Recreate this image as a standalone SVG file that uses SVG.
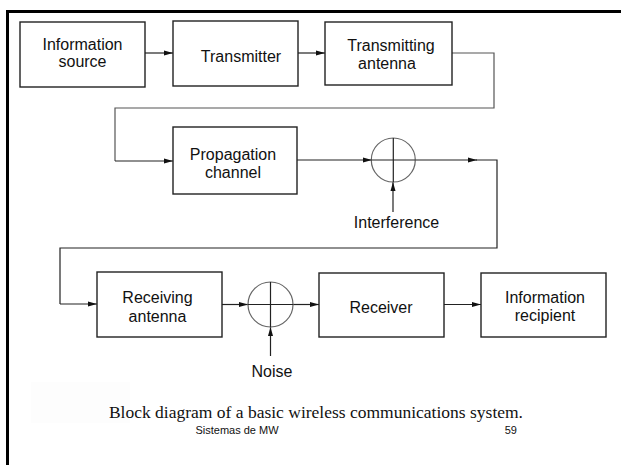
<svg xmlns="http://www.w3.org/2000/svg" width="621" height="465" viewBox="0 0 621 465">
<defs>
<marker id="ah" markerWidth="9" markerHeight="6" refX="9" refY="3" orient="auto" markerUnits="userSpaceOnUse">
<path d="M0,0.5 L9,3 L0,5.5 Z" fill="#111"/>
</marker>
<style>
.box{fill:#fff;stroke:#222;stroke-width:1.4}
.lbl{font-family:"Liberation Sans",Arial,sans-serif;font-size:16px;fill:#111;text-anchor:middle}
.ln{fill:none;stroke:#222;stroke-width:1.2}
.gl{fill:none;stroke:#555;stroke-width:1.2}
.sum{fill:none;stroke:#666;stroke-width:1.2}
</style>
</defs>
<rect width="621" height="465" fill="#fff"/>
<rect x="31" y="382" width="99" height="41" fill="#fdfdfd"/>
<path d="M7.5,465 V11.5 H621" fill="none" stroke="#000" stroke-width="3"/>

<g id="connectors">
<line class="ln" x1="145" y1="53" x2="173" y2="53" marker-end="url(#ah)"/>
<line class="ln" x1="298" y1="53" x2="325" y2="53" marker-end="url(#ah)"/>
<path class="gl" d="M452,53 H494 V108 H115 V161"/>
<line class="ln" x1="115" y1="161" x2="173" y2="161" marker-end="url(#ah)"/>
<line class="ln" x1="297" y1="160" x2="372" y2="160" marker-end="url(#ah)"/>
<line class="ln" x1="393" y1="212" x2="393" y2="182" marker-end="url(#ah)"/>
<line class="ln" x1="415" y1="160" x2="477" y2="160" marker-end="url(#ah)"/>
<path class="ln" d="M476,160 H497 V248 H60 V304"/>
<line class="ln" x1="60" y1="304" x2="97" y2="304" marker-end="url(#ah)"/>
<line class="ln" x1="222" y1="304.5" x2="248" y2="304.5" marker-end="url(#ah)"/>
<line class="ln" x1="270.5" y1="356" x2="270.5" y2="327" marker-end="url(#ah)"/>
<line class="ln" x1="293" y1="304.5" x2="319" y2="304.5" marker-end="url(#ah)"/>
<line class="ln" x1="444" y1="304.5" x2="481" y2="304.5" marker-end="url(#ah)"/>
</g>

<g id="info-source">
<rect class="box" x="20" y="22" width="125" height="65"/>
<text class="lbl" x="82.5" y="50">Information</text>
<text class="lbl" x="82.5" y="67">source</text>
</g>
<g id="transmitter">
<rect class="box" x="173" y="21" width="125" height="65"/>
<text class="lbl" x="241" y="62">Transmitter</text>
</g>
<g id="tx-antenna">
<rect class="box" x="325" y="22" width="127" height="63"/>
<text class="lbl" x="391" y="51">Transmitting</text>
<text class="lbl" x="387" y="69">antenna</text>
</g>
<g id="propagation">
<rect class="box" x="173" y="127" width="124" height="67"/>
<text class="lbl" x="233" y="160">Propagation</text>
<text class="lbl" x="233" y="178">channel</text>
</g>
<g id="sum1">
<circle class="sum" cx="393.3" cy="160" r="22"/>
<line class="ln" x1="393.3" y1="138" x2="393.3" y2="182"/>
<line class="ln" x1="371.3" y1="160" x2="415.3" y2="160"/>
</g>
<g id="interference">
<text class="lbl" x="396.5" y="228">Interference</text>
</g>
<g id="rx-antenna">
<rect class="box" x="97" y="272" width="125" height="65"/>
<text class="lbl" x="157.5" y="303">Receiving</text>
<text class="lbl" x="157.5" y="322">antenna</text>
</g>
<g id="sum2">
<circle class="sum" cx="270.5" cy="304.5" r="22.5"/>
<line class="ln" x1="270.5" y1="282" x2="270.5" y2="327"/>
<line class="ln" x1="248" y1="304.5" x2="293" y2="304.5"/>
</g>
<g id="noise">
<text class="lbl" x="272" y="377">Noise</text>
</g>
<g id="receiver">
<rect class="box" x="319" y="273" width="125" height="64"/>
<text class="lbl" x="381" y="313">Receiver</text>
</g>
<g id="info-recipient">
<rect class="box" x="481" y="273" width="125" height="64"/>
<text class="lbl" x="545" y="303">Information</text>
<text class="lbl" x="545" y="321">recipient</text>
</g>

<text x="523" y="418" text-anchor="end" font-family="'Liberation Serif','Times New Roman',serif" font-size="17.5" fill="#111">Block diagram of a basic wireless communications system.</text>
<text x="237" y="434" text-anchor="middle" font-family="'Liberation Sans',Arial,sans-serif" font-size="11" fill="#111">Sistemas de MW</text>
<text x="517" y="434" text-anchor="end" font-family="'Liberation Sans',Arial,sans-serif" font-size="11" fill="#111">59</text>
</svg>
